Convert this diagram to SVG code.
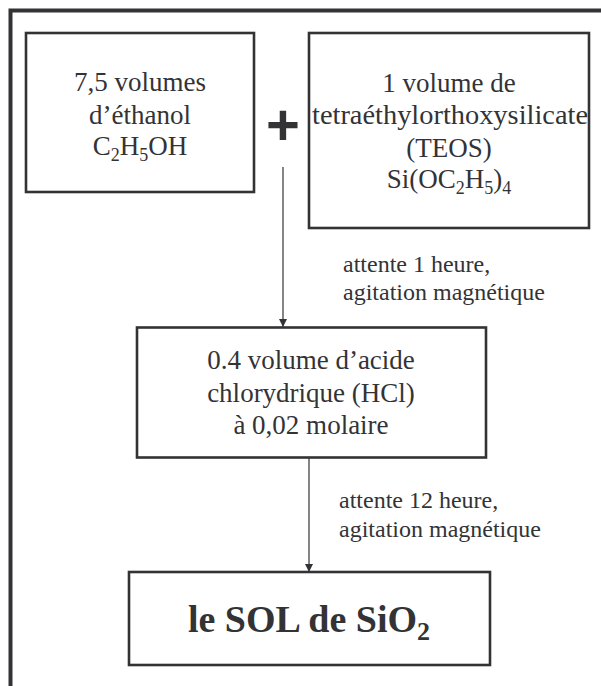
<svg xmlns="http://www.w3.org/2000/svg" width="601" height="686" viewBox="0 0 601 686">
  <style>
    .box { fill: #ffffff; stroke: #333336; stroke-width: 2.6; }
    .frame { fill: none; stroke: #333336; stroke-width: 4; }
    .t { font-size: 27px; fill: #333336; text-anchor: middle; }
    .lbl { font-size: 24px; fill: #333336; }
    .big { font-size: 38px; font-weight: bold; fill: #333336; text-anchor: middle; }
    .conn { stroke: #333336; stroke-width: 1.2; fill: none; }
    .sub { font-size: 18px; }
  </style>
  <defs>
    <marker id="arrow" viewBox="0 0 8 8" refX="8" refY="4" markerWidth="8" markerHeight="8" markerUnits="userSpaceOnUse" orient="auto">
      <path d="M0,0 L8,4 L0,8 Z" fill="#333336"/>
    </marker>
  </defs>
  <rect width="601" height="686" fill="#ffffff"/>
  <path class="frame" d="M10.5,686 L10.5,10.5 L601,10.5"/>

  <g font-family="Liberation Serif, Times New Roman, serif">
  <g id="connectors">
    <line class="conn" x1="283" y1="167" x2="283" y2="327" marker-end="url(#arrow)"/>
    <line class="conn" x1="309" y1="458" x2="309" y2="572" marker-end="url(#arrow)"/>
    <text class="lbl" x="343" y="272">attente 1 heure,</text>
    <text class="lbl" x="343" y="300">agitation magnétique</text>
    <text class="lbl" x="339" y="508">attente 12 heure,</text>
    <text class="lbl" x="339" y="537">agitation magnétique</text>
  </g>

  <g id="ethanol">
    <rect class="box" x="26" y="33" width="228" height="159"/>
    <text class="t" x="140" y="91">7,5 volumes</text>
    <text class="t" x="140" y="124">d’éthanol</text>
    <text class="t" x="140" y="155">C<tspan class="sub" dy="6">2</tspan><tspan dy="-6">H</tspan><tspan class="sub" dy="6">5</tspan><tspan dy="-6">OH</tspan></text>
  </g>

  <g id="plus">
    <text x="283" y="145" font-family="Liberation Sans, Arial, sans-serif" font-weight="bold" font-size="58" fill="#333336" text-anchor="middle">+</text>
  </g>

  <g id="teos">
    <rect class="box" x="309" y="33" width="280" height="195"/>
    <text class="t" x="449" y="92">1 volume de</text>
    <text class="t" x="450" y="124" textLength="276" lengthAdjust="spacingAndGlyphs">tetraéthylorthoxysilicate</text>
    <text class="t" x="449" y="157">(TEOS)</text>
    <text class="t" x="449" y="188">Si(OC<tspan class="sub" dy="6">2</tspan><tspan dy="-6">H</tspan><tspan class="sub" dy="6">5</tspan><tspan dy="-6">)</tspan><tspan class="sub" dy="6">4</tspan></text>
  </g>

  <g id="hcl">
    <rect class="box" x="137" y="327.5" width="349" height="130"/>
    <text class="t" x="311" y="369">0.4 volume d’acide</text>
    <text class="t" x="311" y="402">chlorydrique (HCl)</text>
    <text class="t" x="311" y="434">à 0,02 molaire</text>
  </g>

  <g id="sol">
    <rect class="box" x="129" y="572" width="361" height="93"/>
    <text class="big" x="309" y="632">le SOL de SiO<tspan font-size="26" dy="8">2</tspan></text>
  </g>
  </g>
</svg>
